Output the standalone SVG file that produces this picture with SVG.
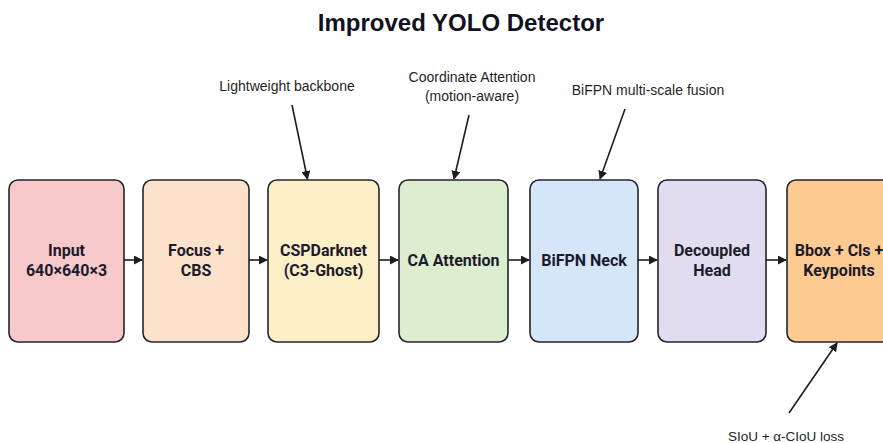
<svg xmlns="http://www.w3.org/2000/svg" width="883" height="443" viewBox="0 0 883 443">
  <defs>
    <marker id="arrow" viewBox="0 0 10 10" refX="9" refY="5" markerWidth="9" markerHeight="9" markerUnits="userSpaceOnUse" orient="auto">
      <path d="M0,0 L10,5 L0,10 Z" fill="#1b1b24"/>
    </marker>
    <style>
      .box { stroke: #23232c; stroke-width: 1.6; }
      .label { font-family: Roboto, "Liberation Sans", Arial, sans-serif; font-weight: bold; font-size: 16px; fill: #1b1b2b; text-anchor: middle; }
      .note { font-family: "Liberation Sans", Arial, sans-serif; font-size: 14px; fill: #1f1f26; text-anchor: middle; }
      .small { font-size: 13.5px; }
      .title { font-family: "Liberation Sans", Arial, sans-serif; font-weight: bold; font-size: 24px; fill: #12121f; text-anchor: middle; }
      .conn { stroke: #1b1b24; stroke-width: 1.6; fill: none; marker-end: url(#arrow); }
    </style>
  </defs>

  <rect width="883" height="443" fill="#ffffff"/>

  <text class="title" x="461" y="31">Improved YOLO Detector</text>

  <g id="input">
    <rect class="box" x="9" y="180" width="115" height="162" rx="9" fill="#f7c9cb"/>
    <text class="label" x="66.5" y="256">Input</text>
    <text class="label" x="66.5" y="276">640×640×3</text>
  </g>

  <g id="focus">
    <rect class="box" x="143" y="180" width="106" height="162" rx="9" fill="#fde2cb"/>
    <text class="label" x="196" y="256">Focus +</text>
    <text class="label" x="196" y="276">CBS</text>
  </g>

  <g id="backbone">
    <rect class="box" x="268" y="180" width="111" height="162" rx="9" fill="#fdf0c9"/>
    <text class="label" x="323.5" y="256">CSPDarknet</text>
    <text class="label" x="323.5" y="276">(C3-Ghost)</text>
  </g>

  <g id="attention">
    <rect class="box" x="399" y="180" width="109" height="162" rx="9" fill="#ddedd0"/>
    <text class="label" x="453.5" y="266">CA Attention</text>
  </g>

  <g id="neck">
    <rect class="box" x="530" y="180" width="108" height="162" rx="9" fill="#d6e6f9"/>
    <text class="label" x="584" y="266">BiFPN Neck</text>
  </g>

  <g id="head">
    <rect class="box" x="658" y="180" width="108" height="162" rx="9" fill="#e1dcf0"/>
    <text class="label" x="712" y="256">Decoupled</text>
    <text class="label" x="712" y="276">Head</text>
  </g>

  <g id="output">
    <rect class="box" x="787" y="180" width="106" height="162" rx="9" fill="#fdca91"/>
    <text class="label" x="839" y="256">Bbox + Cls +</text>
    <text class="label" x="839" y="276">Keypoints</text>
  </g>

  <g id="notes">
    <text class="note" x="287" y="91">Lightweight backbone</text>
    <text class="note" x="472" y="82">Coordinate Attention</text>
    <text class="note" x="472" y="101">(motion-aware)</text>
    <text class="note" x="648" y="95">BiFPN multi-scale fusion</text>
    <text class="note small" x="786" y="441">SIoU + α-CIoU loss</text>
  </g>

  <g id="connectors">
    <line class="conn" x1="124" y1="260" x2="142" y2="260"/>
    <line class="conn" x1="249" y1="260" x2="267" y2="260"/>
    <line class="conn" x1="379" y1="260" x2="398" y2="260"/>
    <line class="conn" x1="508" y1="260" x2="529" y2="260"/>
    <line class="conn" x1="638" y1="260" x2="657" y2="260"/>
    <line class="conn" x1="766" y1="260" x2="786" y2="260"/>
    <line class="conn" x1="292" y1="105" x2="307.5" y2="179"/>
    <line class="conn" x1="469" y1="115" x2="454" y2="179"/>
    <line class="conn" x1="625" y1="109" x2="600" y2="179"/>
    <line class="conn" x1="789" y1="413" x2="837" y2="343"/>
  </g>
</svg>
